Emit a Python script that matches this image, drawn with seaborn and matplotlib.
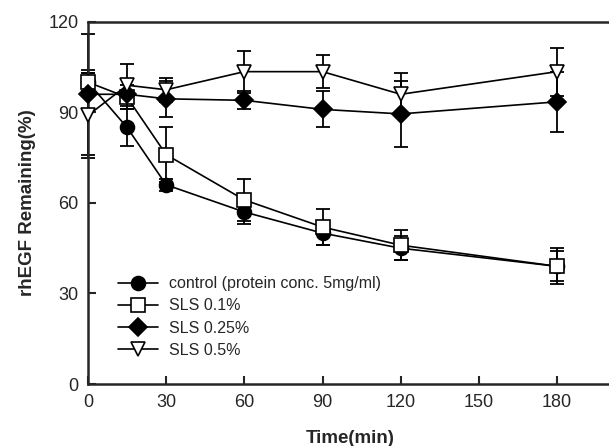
import numpy as np
import pandas as pd
import seaborn as sns
import matplotlib.pyplot as plt

time = [0, 15, 30, 60, 90, 120, 180]
labels = ["control (protein conc. 5mg/ml)", "SLS 0.1%", "SLS 0.25%", "SLS 0.5%"]

control = [100, 85, 66, 57, 50, 45, 39]
control_err = [4, 6, 2, 4, 4, 4, 5]
sls01 = [100, 95, 76, 61, 52, 46, 39]
sls01_err = [3, 4, 9, 7, 6, 5, 6]
sls025 = [96, 96, 94.5, 94, 91, 89.5, 93.5]
sls025_err = [20, 5, 6, 3, 6, 11, 10]
sls05 = [89, 99, 97.5, 103.5, 103.5, 96, 103.5]
sls05_err = [14, 7, 4, 7, 5.5, 7, 8]

series = [control, sls01, sls025, sls05]
errors = [control_err, sls01_err, sls025_err, sls05_err]

rows = []
for lab, vals, errs in zip(labels, series, errors):
    for t, v, e in zip(time, vals, errs):
        rows.append({"Time": t, "Remaining": v, "err": e, "group": lab})
df = pd.DataFrame(rows)

sns.set_theme(style="ticks")
plt.rcParams["font.family"] = ["Liberation Sans", "DejaVu Sans"]

fig = plt.figure(figsize=(6.09, 4.46), dpi=100)
ax = fig.add_axes([0.1445, 0.139, 0.86, 0.812])

marker_map = {labels[0]: "o", labels[1]: "s", labels[2]: "D", labels[3]: "v"}
face_map = {labels[0]: "black", labels[1]: "white", labels[2]: "black", labels[3]: "white"}
size_map = {labels[0]: 10, labels[1]: 9.5, labels[2]: 9, labels[3]: 10.5}

# error bars first, then lines/markers on top
for lab in labels:
    sub = df[df.group == lab]
    ax.errorbar(sub.Time, sub.Remaining, yerr=sub.err, fmt="none",
                ecolor="black", elinewidth=1.3, capsize=5, capthick=1.3,
                zorder=2, clip_on=False)

for lab in labels:
    sub = df[df.group == lab]
    sns.lineplot(data=sub, x="Time", y="Remaining", ax=ax, color="black",
                 linewidth=1.2, marker=marker_map[lab], markersize=size_map[lab],
                 markerfacecolor=face_map[lab], markeredgecolor="black",
                 markeredgewidth=1.2, label=lab, zorder=3, clip_on=False)

ax.set_xlim(0, 201)
ax.set_ylim(0, 120)
ax.set_xticks([0, 30, 60, 90, 120, 150, 180])
ax.set_yticks([0, 30, 60, 90, 120])
ax.tick_params(direction="in", length=6, width=1.5, labelsize=13, pad=7)
for s in ["left", "bottom", "top"]:
    ax.spines[s].set_linewidth(1.8)
ax.spines["right"].set_visible(False)

ax.set_xlabel("Time(min)", fontsize=13.5, fontweight="bold", labelpad=14)
ax.set_ylabel("rhEGF Remaining(%)", fontsize=13.5, fontweight="bold", labelpad=9)

leg = ax.legend(loc="lower left", bbox_to_anchor=(0.045, 0.055), frameon=False,
                fontsize=11.5, handlelength=2.5, handletextpad=0.7,
                labelspacing=0.45, borderaxespad=0)

fig.savefig("out.png", dpi=100)
